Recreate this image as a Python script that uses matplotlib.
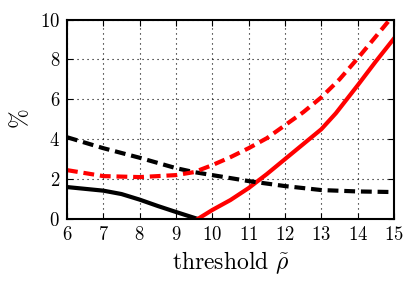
import matplotlib
matplotlib.use('Agg')
import matplotlib.pyplot as plt
import numpy as np

plt.rcParams['font.family'] = 'serif'
plt.rcParams['font.serif'] = ['cmr10']
plt.rcParams['mathtext.fontset'] = 'cm'
plt.rcParams['axes.formatter.use_mathtext'] = True

# black solid
x_bs = [6, 7, 7.5, 8, 8.5, 9, 9.6]
y_bs = [1.6, 1.42, 1.25, 0.97, 0.65, 0.35, 0.0]

# red solid
x_rs = [9.6, 10, 10.5, 11, 11.5, 12, 12.5, 13, 13.4, 14, 14.5, 15]
y_rs = [0.0, 0.45, 0.95, 1.55, 2.25, 3.0, 3.75, 4.5, 5.3, 6.7, 7.9, 9.05]

# black dashed
x_bd = [6, 7, 8, 9, 9.5, 10, 11, 12, 13, 14, 15]
y_bd = [4.1, 3.55, 3.07, 2.55, 2.35, 2.2, 1.9, 1.65, 1.45, 1.38, 1.35]

# red dashed
x_rd = [6, 7, 8, 9, 9.5, 10, 10.5, 11, 11.5, 12, 12.5, 13, 13.5, 14, 14.5, 15]
y_rd = [2.45, 2.15, 2.1, 2.2, 2.35, 2.7, 3.1, 3.55, 4.05, 4.7, 5.35, 6.1, 7.0, 8.05, 9.15, 10.25]

xticks = list(range(6, 16))
yticks = [0, 2, 4, 6, 8, 10]

fig = plt.figure(figsize=(4.16, 2.84), dpi=100)
ax = fig.add_axes([0.161, 0.229, 0.786, 0.702])

ax.plot(x_bs, y_bs, color='black', lw=3)
ax.plot(x_rs, y_rs, color='red', lw=3)
ax.plot(x_bd, y_bd, color='black', lw=3, ls='--', dashes=(2.6, 1.4))
ax.plot(x_rd, y_rd, color='red', lw=3, ls='--', dashes=(2.6, 1.4))

ax.set_xlim(6, 15)
ax.set_ylim(0, 10)
ax.set_xticks(xticks)
ax.set_yticks(yticks)
ax.grid(True, color='black', lw=0.8, dashes=(1, 3.5))
ax.tick_params(direction='in', top=True, right=True, labelsize=13.5, length=4, pad=5)
for s in ax.spines.values():
    s.set_linewidth(1.5)

ax.set_xlabel(r'threshold $\tilde{\rho}$', fontsize=17)
ax.set_ylabel(r'$\%$', fontsize=17, labelpad=6)

fig.savefig('out.png', dpi=100)
